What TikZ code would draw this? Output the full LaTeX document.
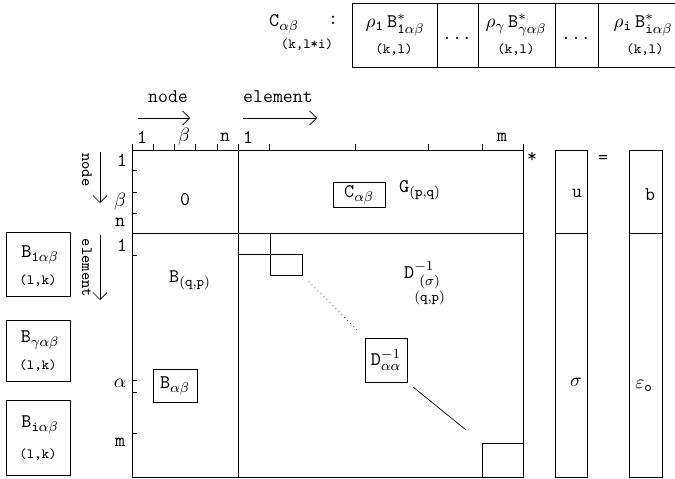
\documentclass[tikz,border=0pt]{standalone}
\usepackage{amsmath, amssymb}
\usepackage{tikz}
\usetikzlibrary{arrows.meta, calc}

\begin{document}
\begin{tikzpicture}[x=0.02cm, y=-0.02cm, >={Straight Barb[length=4pt]},
    every node/.style={font=\ttfamily\fontsize{11}{13}\selectfont},
    small/.style={font=\ttfamily\small},
    tiny/.style={font=\ttfamily\footnotesize},
    blk/.style={draw, inner sep=0pt}]
    \useasboundingbox (0,0) rectangle (675,479);
    % row of blocks of C
    \node (clab) at (284,24) {$\mathtt{C}_{\alpha\beta}$};
    \node (ccol) at (333,20) {:};
    \node[tiny] (csize) at (307,45) {(k,l*i)};
    \draw (690,3) -- (352,3) -- (352,67) -- (690,67);
    \foreach \x in {437,478,555,598} \draw (\x,3) -- (\x,67);
    \node (rb1) at (395,25) {$\rho_{\mathtt{1}}\,\mathtt{B}^{*}_{\mathtt{1}\alpha\beta}$};
    \node[tiny] (rk1) at (394,50) {(k,l)};
    \node (rd1) at (457,38) {...};
    \node (rbg) at (516,25) {$\rho_{\gamma}\,\mathtt{B}^{*}_{\gamma\alpha\beta}$};
    \node[tiny] (rkg) at (516,50) {(k,l)};
    \node (rd2) at (576,38) {...};
    \node (rbi) at (643,25) {$\rho_{\mathtt{i}}\,\mathtt{B}^{*}_{\mathtt{i}\alpha\beta}$};
    \node[tiny] (rki) at (645,50) {(k,l)};
    % headings
    \node (hnode) at (168,97) {node};
    \draw[->] (138,118) -- (190,118);
    \node (helem) at (278,97) {element};
    \draw[->] (243,118) -- (317,118);
    \node[small, rotate=-90] (vnode) at (87,170) {node};
    \draw[->] (100,152) -- (100,203);
    \node[small, rotate=-90] (velem) at (87,268) {element};
    \draw[->] (100,235) -- (100,300);
    % the matrix
    \draw (132,150) rectangle (523,477);
    \draw (238,150) -- (238,477);
    \draw (132,233) -- (523,233);
    \foreach \x in {132,153,174,195,217,238,269,355,428,482,523} \draw (\x,144) -- (\x,150);
    \foreach \y in {170,192,213,255,380,392,433} \draw (132,\y) -- (137,\y);
    \node (tc1) at (142,137) {1};
    \node (tcb) at (184,137) {$\beta$};
    \node (tcn) at (225,137) {n};
    \node (te1) at (248,137) {1};
    \node (tem) at (502,137) {m};
    \node (lc1) at (122,160) {1};
    \node (lcb) at (120,202) {$\beta$};
    \node (lcn) at (120,222) {n};
    \node (le1) at (122,245) {1};
    \node (lea) at (120,383) {$\alpha$};
    \node (lem) at (120,442) {m};
    % blocks inside
    \node (zero) at (185,200) {0};
    \node[blk, minimum width=1.04cm, minimum height=0.5cm] (cab) at (359,195) {$\mathtt{C}_{\alpha\beta}$};
    \node (gpq) at (420,190) {$\mathtt{G}_{(\mathtt{p,q})}$};
    \node (bqp) at (190,280) {$\mathtt{B}_{(\mathtt{q,p})}$};
    \node[blk, minimum width=0.88cm, minimum height=0.66cm] (bab) at (175,386) {$\mathtt{B}_{\alpha\beta}$};
    \node (dsig) at (425,283) {$\mathtt{D}^{-1}_{\substack{(\sigma)\\(\mathtt{q,p})}}$};
    \node[blk, minimum width=0.84cm, minimum height=0.88cm] (daa) at (386,360) {$\mathtt{D}^{-1}_{\alpha\alpha}$};
    \draw (238,254) -- (270,254) -- (270,233);
    \node[blk, minimum width=0.64cm, minimum height=0.42cm] (dtop) at (286,264.5) {};
    \node[blk, minimum width=0.82cm, minimum height=0.68cm] (dbot) at (502.5,460) {};
    \draw[dotted, shorten <=0.18cm, shorten >=0.2cm] (dtop.south east) -- (daa.north west);
    \draw[shorten <=0.15cm, shorten >=0.4cm] (daa.south east) -- (dbot.north west);
    % vectors
    \node (mult) at (532,157) {*};
    \draw (555,150) rectangle (587,477);
    \draw (555,233) -- (587,233);
    \node (uu) at (577,193) {u};
    \node (sig) at (576,382) {$\sigma$};
    \node (eq) at (603,160) {=};
    \draw (629,150) rectangle (662,477);
    \draw (629,233) -- (662,233);
    \node (bb) at (650,195) {b};
    \node (eps) at (644,386) {$\varepsilon_{\mathtt{o}}$};
    % blocks of B
    \draw (6,232) rectangle (70,296);
    \node (lb1) at (40,255) {$\mathtt{B}_{\mathtt{1}\alpha\beta}$};
    \node[tiny] (lk1) at (38,281) {(l,k)};
    \draw (6,320) rectangle (70,381);
    \node (lbg) at (40,340) {$\mathtt{B}_{\gamma\alpha\beta}$};
    \node[tiny] (lkg) at (38,366) {(l,k)};
    \draw (6,400) rectangle (70,475);
    \node (lbi) at (40,425) {$\mathtt{B}_{\mathtt{i}\alpha\beta}$};
    \node[tiny] (lki) at (38,455) {(l,k)};
\end{tikzpicture}
\end{document}
